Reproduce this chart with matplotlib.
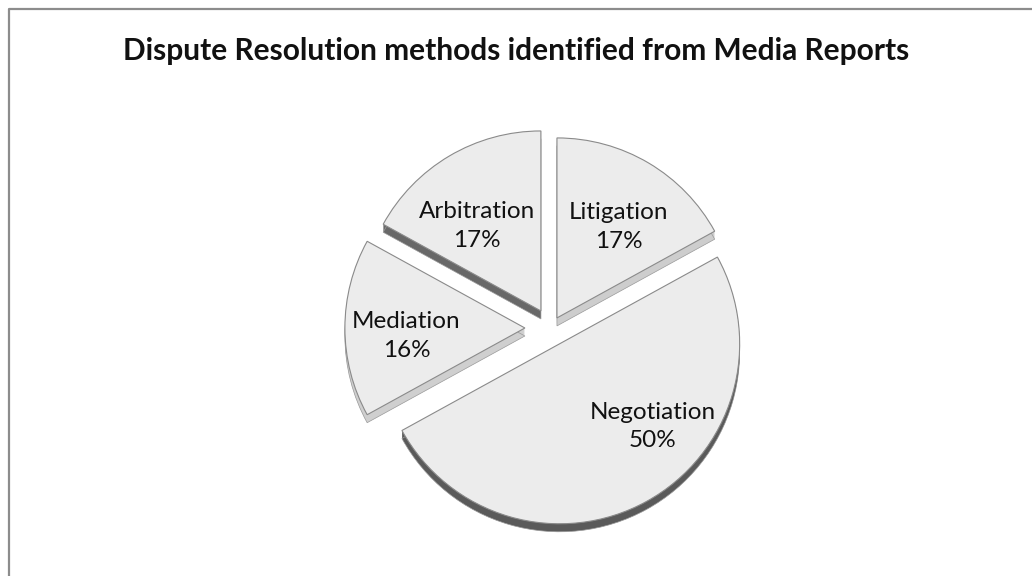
import numpy as np
import matplotlib.pyplot as plt
from matplotlib.patches import Wedge

# chart data
methods = ["Litigation", "Negotiation", "Mediation", "Arbitration"]
shares = [17, 50, 16, 17]
explode_frac = [0.065, 0.10, 0.145, 0.11]

# styling (per slice)
side_colors = ["#cdcdcd", "#5a5a5a", "#cfcfcf", "#686868"]
label_dist = [0.61, 0.69, 0.66, 0.59]
label_turn = [-3.7, 19.5, 3.8, 6.4]

W, H = 1032, 576
radius = 180
center = (551, H - 328)
depth = 8

plt.rcParams["font.family"] = ["Lato", "DejaVu Sans"]

fig = plt.figure(figsize=(W / 100, H / 100), dpi=100)
ax = fig.add_axes([0, 0, 1, 1])

wedges, _ = ax.pie(
    shares,
    radius=radius,
    center=center,
    startangle=90,
    counterclock=False,
    explode=[e * radius for e in explode_frac],
    colors=["#ececec"] * len(shares),
    wedgeprops=dict(edgecolor="#8a8a8a", linewidth=0.8),
)

ax.set_xlim(0, W)
ax.set_ylim(0, H)
ax.set_aspect("auto")
ax.axis("off")

# fake 3D thickness: stacked copies shifted downward
for w, side in zip(wedges, side_colors):
    w.set_zorder(5)
    cx, cy = w.center
    for k in range(1, depth + 1):
        s = Wedge((cx, cy - k), w.r, w.theta1, w.theta2,
                  facecolor=side, edgecolor="none", zorder=4)
        ax.add_patch(s)
    ax.add_patch(Wedge((cx, cy - depth), w.r, w.theta1, w.theta2,
                       facecolor="none", edgecolor="#9a9a9a",
                       linewidth=0.5, zorder=4))

# labels inside each slice
for w, name, val, d, turn in zip(wedges, methods, shares, label_dist, label_turn):
    cx, cy = w.center
    mid = np.deg2rad((w.theta1 + w.theta2) / 2 + turn)
    tx = cx + d * w.r * np.cos(mid)
    ty = cy + d * w.r * np.sin(mid)
    ax.text(tx, ty, f"{name}\n{val}%", ha="center", va="center",
            fontsize=17.5, linespacing=1.45, color="#111111", zorder=6)

# chart border (left and top visible)
ax.plot([8.5, 8.5, W + 5], [-5, H - 8.5, H - 8.5], color="#8c8c8c",
        linewidth=1.6, zorder=1, clip_on=False)

ax.text(W / 2, H - 51, "Dispute Resolution methods identified from Media Reports",
        ha="center", va="center", fontsize=21.5, fontweight="bold", color="#111111")

fig.savefig("out.png", dpi=100)
